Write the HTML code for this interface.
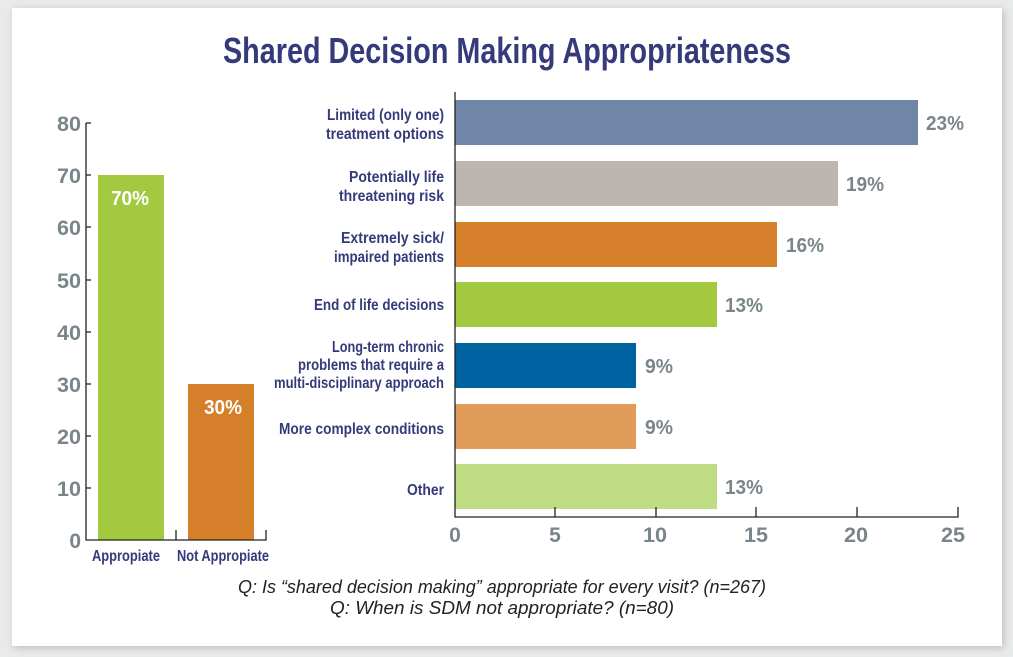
<!DOCTYPE html>
<html><head><meta charset="utf-8"><style>
html,body{margin:0;padding:0;background:#e9eaeb;}
svg{display:block;}
text{font-family:"Liberation Sans",sans-serif;font-weight:bold;}
text.fn{font-weight:normal;font-style:italic;}
</style></head><body>
<svg width="1013" height="657" viewBox="0 0 1013 657">
<defs><filter id="sh" x="-5%" y="-5%" width="110%" height="110%"><feGaussianBlur stdDeviation="4"/></filter></defs>
<rect x="0" y="0" width="1013" height="657" fill="#e9eaeb"/>
<rect x="14" y="10" width="990" height="638" fill="#bbb" filter="url(#sh)"/>
<rect x="12" y="8" width="990" height="638" fill="#fff"/>
<text x="507" y="63" text-anchor="middle" font-size="36" fill="#353a7a" textLength="568" lengthAdjust="spacingAndGlyphs">Shared Decision Making Appropriateness</text>

<!-- left chart -->
<g fill="#7a858a" font-size="21" text-anchor="end">
<text x="81" y="131" textLength="24" lengthAdjust="spacingAndGlyphs">80</text><text x="81" y="183" textLength="24" lengthAdjust="spacingAndGlyphs">70</text><text x="81" y="235" textLength="24" lengthAdjust="spacingAndGlyphs">60</text>
<text x="81" y="288" textLength="24" lengthAdjust="spacingAndGlyphs">50</text><text x="81" y="340" textLength="24" lengthAdjust="spacingAndGlyphs">40</text><text x="81" y="392" textLength="24" lengthAdjust="spacingAndGlyphs">30</text>
<text x="81" y="444" textLength="24" lengthAdjust="spacingAndGlyphs">20</text><text x="81" y="496" textLength="24" lengthAdjust="spacingAndGlyphs">10</text><text x="81" y="548">0</text>
</g>
<rect x="98" y="175" width="66" height="365" fill="#a2c940"/>
<rect x="188" y="384" width="66" height="156" fill="#d57f2a"/>
<text x="130" y="205" text-anchor="middle" fill="#fff" font-size="20" textLength="38" lengthAdjust="spacingAndGlyphs">70%</text>
<text x="223" y="414" text-anchor="middle" fill="#fff" font-size="20" textLength="38" lengthAdjust="spacingAndGlyphs">30%</text>
<g stroke="#222" stroke-width="1.3" fill="none">
<path d="M86 123 V540 H266 V530 M176 540 V530"/>
<path d="M86 123 H91 M86 175 H91 M86 227 H91 M86 280 H91 M86 332 H91 M86 384 H91 M86 436 H91 M86 488 H91"/>
</g>
<text x="126" y="561" text-anchor="middle" fill="#353a7a" font-size="16" textLength="68" lengthAdjust="spacingAndGlyphs">Appropiate</text>
<text x="223" y="561" text-anchor="middle" fill="#353a7a" font-size="16" textLength="92" lengthAdjust="spacingAndGlyphs">Not Appropiate</text>

<!-- right chart -->
<rect x="455" y="100" width="463" height="45" fill="#6f86a8"/>
<rect x="455" y="161" width="383" height="45" fill="#bdb5b0"/>
<rect x="455" y="222" width="322" height="45" fill="#d57f2a"/>
<rect x="455" y="282" width="262" height="45" fill="#a2c940"/>
<rect x="455" y="343" width="181" height="45" fill="#0063a1"/>
<rect x="455" y="404" width="181" height="45" fill="#e19c5a"/>
<rect x="455" y="464" width="262" height="45" fill="#bddc84"/>
<g fill="#7a858a" font-size="20">
<text x="926" y="130" textLength="38" lengthAdjust="spacingAndGlyphs">23%</text><text x="846" y="191" textLength="38" lengthAdjust="spacingAndGlyphs">19%</text><text x="786" y="252" textLength="38" lengthAdjust="spacingAndGlyphs">16%</text>
<text x="725" y="312" textLength="38" lengthAdjust="spacingAndGlyphs">13%</text><text x="645" y="373" textLength="28" lengthAdjust="spacingAndGlyphs">9%</text><text x="645" y="434" textLength="28" lengthAdjust="spacingAndGlyphs">9%</text><text x="725" y="494" textLength="38" lengthAdjust="spacingAndGlyphs">13%</text>
</g>
<g fill="#353a7a" font-size="16" text-anchor="end">
<text x="444" y="120" textLength="117" lengthAdjust="spacingAndGlyphs">Limited (only one)</text>
<text x="444" y="139" textLength="118" lengthAdjust="spacingAndGlyphs">treatment options</text>
<text x="444" y="182" textLength="95" lengthAdjust="spacingAndGlyphs">Potentially life</text>
<text x="444" y="201" textLength="105" lengthAdjust="spacingAndGlyphs">threatening risk</text>
<text x="444" y="243" textLength="103" lengthAdjust="spacingAndGlyphs">Extremely sick/</text>
<text x="444" y="262" textLength="110" lengthAdjust="spacingAndGlyphs">impaired patients</text>
<text x="444" y="310" textLength="130" lengthAdjust="spacingAndGlyphs">End of life decisions</text>
<text x="444" y="352" textLength="112" lengthAdjust="spacingAndGlyphs">Long-term chronic</text>
<text x="444" y="370" textLength="146" lengthAdjust="spacingAndGlyphs">problems that require a</text>
<text x="444" y="388" textLength="170" lengthAdjust="spacingAndGlyphs">multi-disciplinary approach</text>
<text x="444" y="434" textLength="165" lengthAdjust="spacingAndGlyphs">More complex conditions</text>
<text x="444" y="495" textLength="37" lengthAdjust="spacingAndGlyphs">Other</text>
</g>
<g stroke="#222" stroke-width="1.3" fill="none">
<path d="M455 92 V517 H958 V507 M555 517 V507 M656 517 V507 M756 517 V507 M857 517 V507"/>
</g>
<g fill="#7a858a" font-size="21" text-anchor="middle">
<text x="455" y="542">0</text><text x="555" y="542">5</text><text x="655" y="542" textLength="24" lengthAdjust="spacingAndGlyphs">10</text>
<text x="856" y="542" textLength="24" lengthAdjust="spacingAndGlyphs">20</text><text x="953" y="542" textLength="24" lengthAdjust="spacingAndGlyphs">25</text><text x="756" y="542" textLength="24" lengthAdjust="spacingAndGlyphs">15</text>
</g>
<g fill="#222" font-size="18" text-anchor="middle">
<text class="fn" x="502" y="593" textLength="528" lengthAdjust="spacingAndGlyphs">Q:  Is “shared decision making” appropriate for every visit? (n=267)</text>
<text class="fn" x="502" y="614" textLength="344" lengthAdjust="spacingAndGlyphs">Q:  When is SDM not appropriate? (n=80)</text>
</g>
</svg>
</body></html>
